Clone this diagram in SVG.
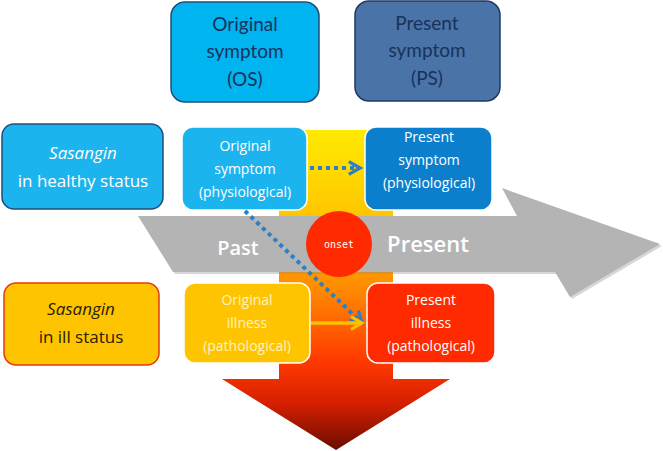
<svg xmlns="http://www.w3.org/2000/svg" width="663" height="451" viewBox="0 0 663 451">
<defs>
<linearGradient id="vg" gradientUnits="userSpaceOnUse" x1="0" y1="130" x2="0" y2="450">
<stop offset="0" stop-color="#ffea00"/>
<stop offset="0.28" stop-color="#ffc400"/>
<stop offset="0.5" stop-color="#ff8a00"/>
<stop offset="0.72" stop-color="#ff3a00"/>
<stop offset="0.85" stop-color="#d82000"/>
<stop offset="1" stop-color="#6a0c00"/>
</linearGradient>
<marker id="mb" viewBox="0 0 10 10" refX="8" refY="5" markerWidth="4" markerHeight="4" markerUnits="strokeWidth" orient="auto">
<path d="M1,1 L8,5 L1,9" fill="none" stroke="#2a7fc8" stroke-width="2"/>
</marker>
<marker id="my" viewBox="0 0 10 10" refX="8" refY="5" markerWidth="4.5" markerHeight="4.5" markerUnits="strokeWidth" orient="auto">
<path d="M1,1 L8,5 L1,9" fill="none" stroke="#ffc000" stroke-width="2"/>
</marker>
</defs>
<style>
text{font-family:"Open Sans","Noto Sans","Liberation Sans",sans-serif;text-anchor:middle}
.top{font-family:Lato,"Open Sans",sans-serif;font-size:19px;fill:#17325c}
.big{font-size:17px}
.sm{font-size:14px}
.w{fill:#ffffff}
.inner{stroke:#ffffff;stroke-width:1.5}
</style>
<g id="progress-arrow">
<polygon points="279,130 393,130 393,379 450,379 336,450 222,379 279,379" fill="url(#vg)"/>
</g>
<g id="time-arrow">
<polygon points="140,218 519,218 504,190 662,246 572,299 557,274 175,274" fill="#8a8a8a" opacity="0.35"/>
<polygon points="138,216 517,216 502,188 660,244 570,297 555,272 173,272" fill="#b4b4b4"/>
<text x="238" y="255" class="w" style="font-size:20px;font-weight:600">Past</text>
<text x="428" y="252" class="w" style="font-size:22px;font-weight:600">Present</text>
</g>
<g id="onset">
<circle cx="339" cy="244" r="33" fill="#ff2a00"/>
<text x="339" y="248" class="w" style="font-size:10px;font-family:'DejaVu Sans Mono',monospace">onset</text>
</g>
<g id="os">
<rect x="171" y="2" width="148" height="100" rx="14" fill="#00b4f0" stroke="#1f4e79" stroke-width="1.5"/>
<text class="top" x="245" y="31">Original</text>
<text class="top" x="245" y="58">symptom</text>
<text class="top" x="245" y="86">(OS)</text>
</g>
<g id="ps">
<rect x="355" y="1" width="145" height="100" rx="14" fill="#4a73a8" stroke="#1f3864" stroke-width="1.5"/>
<text class="top" x="427" y="30">Present</text>
<text class="top" x="427" y="57">symptom</text>
<text class="top" x="427" y="85">(PS)</text>
</g>
<g id="healthy">
<rect x="2" y="124" width="161" height="85" rx="12" fill="#1cb4ee" stroke="#1f4e79" stroke-width="1.5"/>
<text class="big w" x="83" y="159" font-style="italic">Sasangin</text>
<text class="big w" x="83" y="187">in healthy status</text>
</g>
<g id="ill">
<rect x="4" y="283" width="155" height="82" rx="12" fill="#ffc400" stroke="#e8380d" stroke-width="1.5"/>
<text class="big" x="81" y="315" font-style="italic" fill="#2a2000">Sasangin</text>
<text class="big" x="81" y="343" fill="#2a2000">in ill status</text>
</g>
<g id="orig-symptom">
<rect x="182" y="127" width="125" height="83" rx="11" fill="#1cb4ee" class="inner"/>
<text class="sm w" x="245" y="151">Original</text>
<text class="sm w" x="245" y="174">symptom</text>
<text class="sm w" x="245" y="197">(physiological)</text>
</g>
<g id="pres-symptom">
<rect x="365" y="127" width="127" height="83" rx="11" fill="#0b7fcc" class="inner"/>
<text class="sm w" x="429" y="142">Present</text>
<text class="sm w" x="429" y="165">symptom</text>
<text class="sm w" x="429" y="188">(physiological)</text>
</g>
<g id="orig-illness">
<rect x="184" y="283" width="126" height="80" rx="11" fill="#ffc400" class="inner"/>
<text class="sm" x="247" y="305" fill="#fff3c0">Original</text>
<text class="sm" x="247" y="328" fill="#fff3c0">illness</text>
<text class="sm" x="247" y="351" fill="#fff3c0">(pathological)</text>
</g>
<g id="pres-illness">
<rect x="367" y="283" width="128" height="80" rx="11" fill="#ff2a00" class="inner"/>
<text class="sm w" x="431" y="305">Present</text>
<text class="sm w" x="431" y="328">illness</text>
<text class="sm w" x="431" y="351">(pathological)</text>
</g>
<g id="connectors">
<line x1="310" y1="168" x2="360" y2="168" stroke="#2a7fc8" stroke-width="4" stroke-dasharray="4 4" marker-end="url(#mb)"/>
<line x1="245" y1="211" x2="362" y2="323" stroke="#2a7fc8" stroke-width="4" stroke-dasharray="4 4" marker-end="url(#mb)"/>
<line x1="311" y1="323" x2="362" y2="323" stroke="#ffc000" stroke-width="3.5" marker-end="url(#my)"/>
</g>
</svg>
